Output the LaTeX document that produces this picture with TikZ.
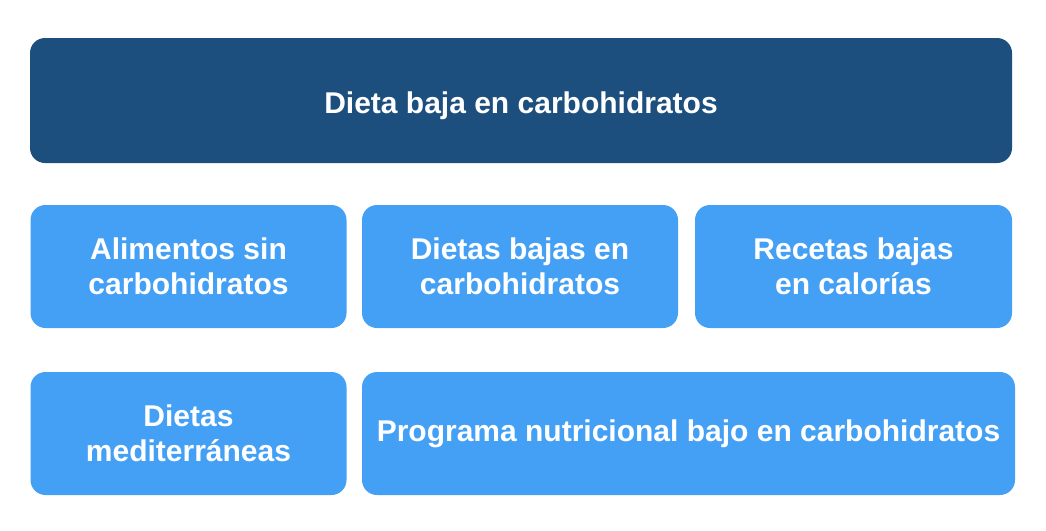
\documentclass[tikz,border=0pt]{standalone}
\usepackage{fontspec}
\setmainfont{Liberation Sans}
\definecolor{darkbox}{HTML}{1D4F7E}
\definecolor{lightbox}{HTML}{44A0F5}

\begin{document}
\begin{tikzpicture}[x=1pt,y=-1pt,
every node/.style={align=center,text=white,font=\fontsize{30}{35}\selectfont\bfseries},
dark/.style={fill=darkbox,rounded corners=15pt,inner sep=0pt,minimum height=125pt},
light/.style={fill=lightbox,rounded corners=15pt,inner sep=0pt,minimum height=123pt}]
%================================================================
%	Frame
\useasboundingbox (0,0) rectangle (1046,530);

%================================================================
%	Top
\node[style=dark, minimum width=982pt, text height=25pt, text depth=0pt] (top) at (521,100.5) {Dieta baja en carbohidratos};

%================================================================
%	Row 1
\node[style=light, minimum width=316pt] (a1) at (188.5,266.5) {Alimentos sin\\carbohidratos};
\node[style=light, minimum width=316pt] (a2) at (520,266.5) {Dietas bajas en\\carbohidratos};
\node[style=light, minimum width=317pt] (a3) at (853.5,266.5) {Recetas bajas\\en calorías};
%----------------------------------------------------------------
%	Row 2
\node[style=light, minimum width=316pt] (b1) at (188.5,433.5) {Dietas\\mediterráneas};
\node[style=light, minimum width=653pt] (b2) at (688.5,433.5) {Programa nutricional bajo en carbohidratos};
%================================================================
\end{tikzpicture}
\end{document}
